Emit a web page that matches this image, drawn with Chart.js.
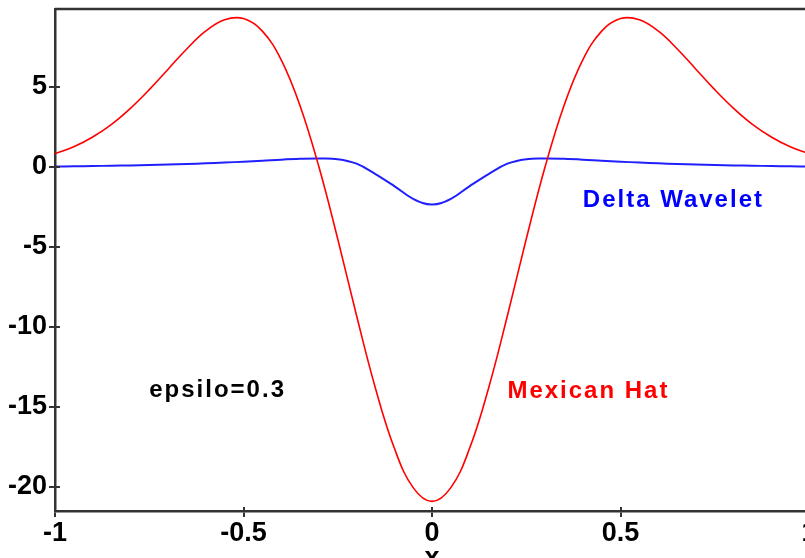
<!DOCTYPE html>
<html>
<head>
<meta charset="utf-8">
<script src="https://cdn.jsdelivr.net/npm/chart.js@4.4.1/dist/chart.umd.min.js"></script>
<style>
  html, body { margin: 0; padding: 0; background: #fff; overflow: hidden; }
  #wrap { width: 812px; height: 558px; }
</style>
</head>
<body>
<div id="wrap"><canvas id="waveChart" width="812" height="558"></canvas></div>
<script>
const xValues = [
  -1, -0.95, -0.9, -0.85, -0.8, -0.75, -0.7, -0.65, -0.6, -0.55, -0.5,
  -0.45, -0.4, -0.35, -0.3, -0.25, -0.2, -0.15, -0.1, -0.05, 0,
  0.05, 0.1, 0.15, 0.2, 0.25, 0.3, 0.35, 0.4, 0.45, 0.5,
  0.55, 0.6, 0.65, 0.7, 0.75, 0.8, 0.85, 0.9, 0.95, 1
];
const hatValues = [
  0.82, 1.25, 1.86, 2.65, 3.65, 4.82, 6.10, 7.38, 8.49, 9.19, 9.26,
  8.48, 6.68, 3.82, 0, -4.51, -9.30, -13.83, -17.57, -20.04, -20.9,
  -20.04, -17.57, -13.83, -9.30, -4.51, 0, 3.82, 6.68, 8.48, 9.26,
  9.19, 8.49, 7.38, 6.10, 4.82, 3.65, 2.65, 1.86, 1.25, 0.82
];
const deltaValues = [
  0.02, 0.03, 0.05, 0.07, 0.09, 0.12, 0.15, 0.18, 0.22, 0.27, 0.32,
  0.38, 0.45, 0.50, 0.52, 0.48, 0.20, -0.45, -1.2, -2.0, -2.35,
  -2.0, -1.2, -0.45, 0.20, 0.48, 0.52, 0.50, 0.45, 0.38, 0.32,
  0.27, 0.22, 0.18, 0.15, 0.12, 0.09, 0.07, 0.05, 0.03, 0.02
];
const xTicks = [-1, -0.5, 0, 0.5, 1];
const yTicks = [-20, -15, -10, -5, 0, 5];
const xRange = [-1, 1];
const yRange = [-21.5, 9.86];

const FONT = '"Liberation Sans", Arial, sans-serif';
const AXIS = "#333333";

// text drawn inside the plot: [text, colour, x, y] (data coords of left baseline)
const notes = [
  ["Delta Wavelet", "#0000ff", 0.40, -2.5],
  ["Mexican Hat", "#ff0000", 0.20, -14.45],
  ["epsilo=0.3", "#000000", -0.75, -14.4]
];

const extras = {
  id: "extras",
  afterDraw(chart) {
    const { ctx, chartArea, scales } = chart;
    ctx.save();
    // top frame line
    ctx.strokeStyle = AXIS;
    ctx.lineWidth = 2.5;
    ctx.beginPath();
    ctx.moveTo(chartArea.left, chartArea.top);
    ctx.lineTo(chart.width, chartArea.top);
    ctx.stroke();

    // tick marks poke a little into the plot too
    ctx.lineWidth = 2;
    ctx.beginPath();
    yTicks.forEach(v => {
      const py = Math.round(scales.y.getPixelForValue(v));
      ctx.moveTo(chartArea.left, py);
      ctx.lineTo(chartArea.left + 5, py);
    });
    xTicks.forEach(v => {
      const px = Math.round(scales.x.getPixelForValue(v));
      ctx.moveTo(px, chartArea.bottom);
      ctx.lineTo(px, chartArea.bottom - 4);
    });
    ctx.stroke();

    ctx.font = "bold 24px " + FONT;
    ctx.letterSpacing = "2px";
    ctx.textBaseline = "alphabetic";
    ctx.textAlign = "left";
    notes.forEach(([text, color, x, y]) => {
      ctx.fillStyle = color;
      ctx.fillText(text, scales.x.getPixelForValue(x), scales.y.getPixelForValue(y));
    });

    // x axis title, cut by the bottom edge
    ctx.letterSpacing = "0px";
    ctx.font = "bold 27px " + FONT;
    ctx.fillStyle = "#000";
    ctx.textAlign = "center";
    ctx.fillText("x", scales.x.getPixelForValue(0), 566);
    ctx.restore();
  }
};

const ctx = document.getElementById("waveChart").getContext("2d");
new Chart(ctx, {
  type: "line",
  data: {
    datasets: [
      {
        label: "Mexican Hat",
        data: xValues.map((x, i) => ({ x: x, y: hatValues[i] })),
        borderColor: "#ff0000",
        borderWidth: 1.6,
        pointRadius: 0,
        tension: 0.4
      },
      {
        label: "Delta Wavelet",
        data: xValues.map((x, i) => ({ x: x, y: deltaValues[i] })),
        borderColor: "#2020ff",
        borderWidth: 2,
        pointRadius: 0,
        tension: 0.4
      }
    ]
  },
  options: {
    responsive: false,
    animation: false,
    devicePixelRatio: 1,
    layout: { padding: { top: 9, right: 3, left: 0, bottom: 0 } },
    plugins: {
      legend: { display: false },
      tooltip: { enabled: false }
    },
    scales: {
      x: {
        type: "linear",
        min: xRange[0],
        max: xRange[1],
        afterBuildTicks: (scale) => { scale.ticks = xTicks.map(v => ({ value: v })); },
        afterFit: (scale) => { scale.height = 47; scale.paddingLeft = 0; scale.paddingRight = 0; },
        grid: { drawOnChartArea: false, tickLength: 6, color: AXIS, lineWidth: 2 },
        border: { color: AXIS, width: 2.5 },
        ticks: {
          color: "#000",
          padding: 0,
          maxRotation: 0,
          autoSkip: false,
          font: { family: FONT, size: 27, weight: "bold" },
          callback: (v) => String(v)
        }
      },
      y: {
        min: yRange[0],
        max: yRange[1],
        afterBuildTicks: (scale) => { scale.ticks = yTicks.map(v => ({ value: v })); },
        afterFit: (scale) => { scale.width = 55; scale.paddingTop = 0; scale.paddingBottom = 0; },
        grid: { drawOnChartArea: false, tickLength: 6, color: AXIS, lineWidth: 2 },
        border: { color: AXIS, width: 2.5 },
        ticks: {
          color: "#000",
          padding: 2,
          autoSkip: false,
          font: { family: FONT, size: 27, weight: "bold" },
          callback: (v) => String(v)
        }
      }
    }
  },
  plugins: [extras]
});
</script>
</body>
</html>
